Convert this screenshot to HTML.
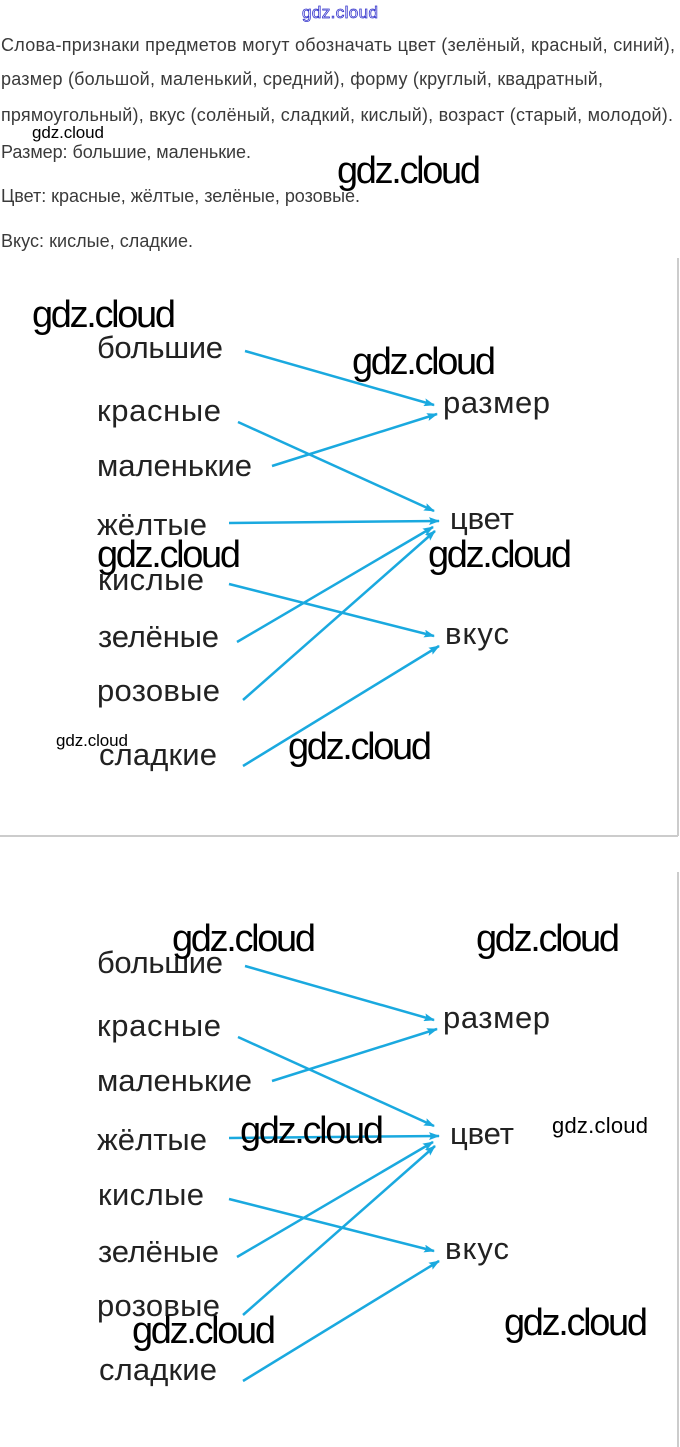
<!DOCTYPE html>
<html><head><meta charset="utf-8"><style>
html,body{margin:0;padding:0;background:#fff;}
svg{display:block;}
.t{font-family:"Liberation Sans",sans-serif;font-size:18px;fill:#3a3a3a;}
.w{font-family:"Liberation Sans",sans-serif;font-size:31px;fill:#222;}
.g{font-family:"Liberation Sans",sans-serif;fill:#000;}
.l{stroke:#1aa9df;stroke-width:2.5;fill:none;marker-end:url(#a);}
</style></head><body>
<svg width="680" height="1447" viewBox="0 0 680 1447" xmlns="http://www.w3.org/2000/svg">
<defs><marker id="a" markerWidth="11" markerHeight="8" refX="10" refY="4" orient="auto" markerUnits="userSpaceOnUse"><path d="M0,0 L11,4 L0,8 L2,4 Z" fill="#1aa9df"/></marker></defs>
<text x="302" y="18" font-family="Liberation Sans,sans-serif" font-size="17" fill="none" stroke="#3333cc" stroke-width="0.8" textLength="76">gdz.cloud</text>
<text class="t" x="1" y="51" textLength="674">Слова-признаки предметов могут обозначать цвет (зелёный, красный, синий),</text>
<text class="t" x="1" y="85" textLength="602">размер (большой, маленький, средний), форму (круглый, квадратный,</text>
<text class="t" x="1" y="121" textLength="672">прямоугольный), вкус (солёный, сладкий, кислый), возраст (старый, молодой).</text>
<text class="g" x="32" y="138" font-size="17" textLength="72">gdz.cloud</text>
<text class="t" x="1" y="158" textLength="250">Размер: большие, маленькие.</text>
<text class="g" x="337" y="183" font-size="38" textLength="144">gdz.cloud</text>
<text class="t" x="1" y="202" textLength="359">Цвет: красные, жёлтые, зелёные, розовые.</text>
<text class="t" x="1" y="247" textLength="192">Вкус: кислые, сладкие.</text>
<line x1="678" y1="258" x2="678" y2="836" stroke="#ccc" stroke-width="2"/>
<line x1="0" y1="836" x2="678" y2="836" stroke="#ccc" stroke-width="2"/>
<line x1="678" y1="872" x2="678" y2="1447" stroke="#ccc" stroke-width="2"/>
<g id="d">
<text class="w" x="97" y="358" textLength="126">большие</text>
<text class="w" x="97" y="421" textLength="124">красные</text>
<text class="w" x="97" y="476" textLength="155">маленькие</text>
<text class="w" x="97" y="535" textLength="110">жёлтые</text>
<text class="w" x="98" y="590" textLength="106">кислые</text>
<text class="w" x="98" y="647" textLength="121">зелёные</text>
<text class="w" x="97" y="701" textLength="123">розовые</text>
<text class="w" x="99" y="765" textLength="118">сладкие</text>
<text class="w" x="443" y="413" textLength="107">размер</text>
<text class="w" x="450" y="529" textLength="64">цвет</text>
<text class="w" x="445" y="644" textLength="64">вкус</text>
<line class="l" x1="245" y1="351" x2="434" y2="405"/>
<line class="l" x1="238" y1="422" x2="434" y2="511"/>
<line class="l" x1="272" y1="466" x2="437" y2="414"/>
<line class="l" x1="229" y1="523" x2="439" y2="521"/>
<line class="l" x1="229" y1="584" x2="434" y2="636"/>
<line class="l" x1="237" y1="642" x2="433" y2="527"/>
<line class="l" x1="243" y1="700" x2="435" y2="531"/>
<line class="l" x1="243" y1="766" x2="439" y2="646"/>
</g>
<use href="#d" y="615"/>
<text class="g" x="32" y="327" font-size="38" textLength="144">gdz.cloud</text>
<text class="g" x="352" y="374" font-size="38" textLength="144">gdz.cloud</text>
<text class="g" x="97" y="567" font-size="38" textLength="144">gdz.cloud</text>
<text class="g" x="428" y="567" font-size="38" textLength="144">gdz.cloud</text>
<text class="g" x="288" y="759" font-size="38" textLength="144">gdz.cloud</text>
<text class="g" x="56" y="746" font-size="17" textLength="72">gdz.cloud</text>
<text class="g" x="172" y="951" font-size="38" textLength="144">gdz.cloud</text>
<text class="g" x="476" y="951" font-size="38" textLength="144">gdz.cloud</text>
<text class="g" x="240" y="1143" font-size="38" textLength="144">gdz.cloud</text>
<text class="g" x="552" y="1133" font-size="22" textLength="96">gdz.cloud</text>
<text class="g" x="132" y="1343" font-size="38" textLength="144">gdz.cloud</text>
<text class="g" x="504" y="1335" font-size="38" textLength="144">gdz.cloud</text>
</svg>
</body></html>
